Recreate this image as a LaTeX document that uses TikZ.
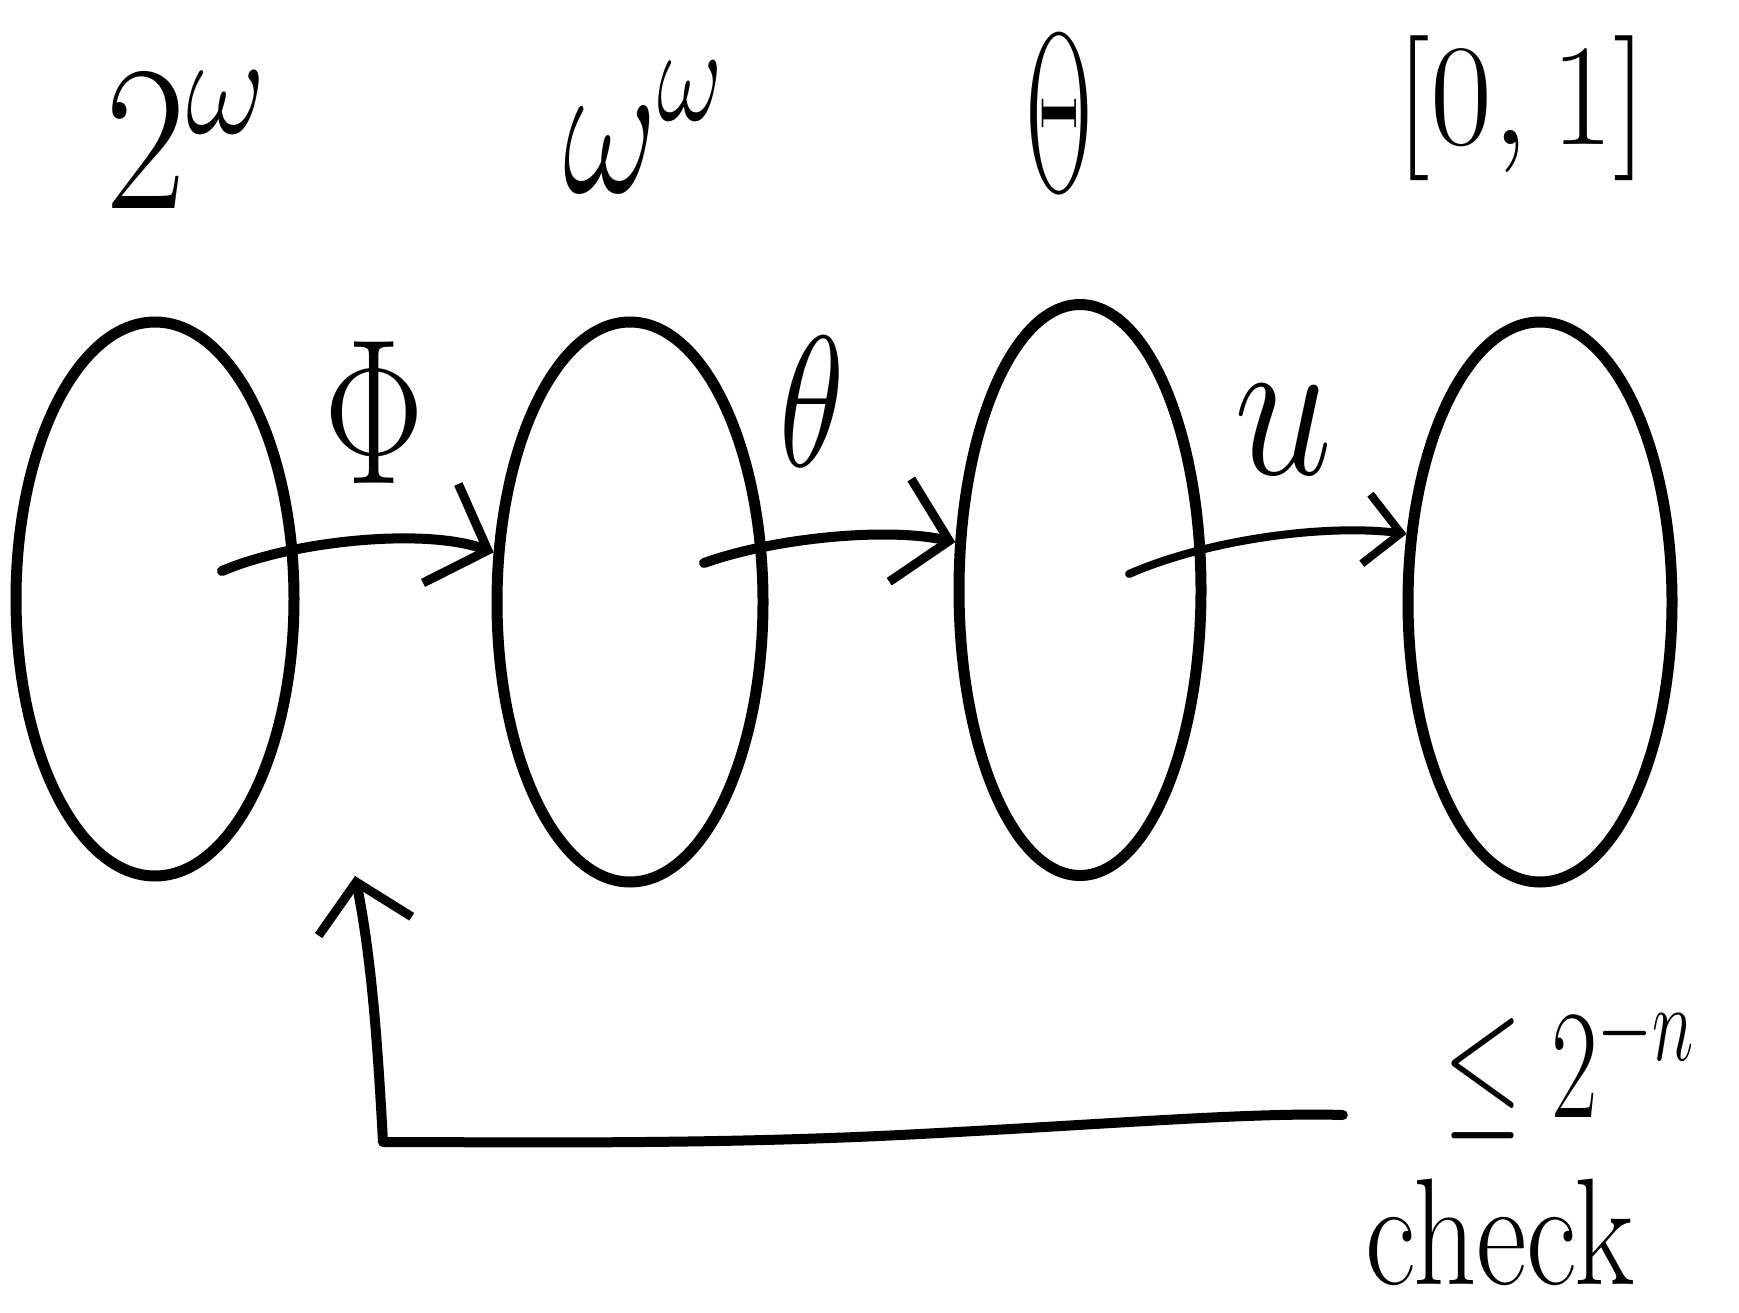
\documentclass[tikz,border=0pt]{standalone}
\usepackage{amsmath,amssymb}
\usetikzlibrary{shapes.geometric,arrows.meta,calc}
\begin{document}
\begin{tikzpicture}[x=1pt,y=-1pt,
  blob/.style={draw, ellipse, line width=11pt, inner sep=0pt},
  lab/.style={inner sep=0pt, font=\fontsize{20}{24}\selectfont},
  arr/.style={line width=10pt, line cap=round, line join=round, -{Straight Barb[length=50pt,width=105pt,line width=9pt]}},
  arrs/.style={line width=8pt, line cap=round, line join=round, -{Straight Barb[length=35pt,width=70pt,line width=8pt]}},
  arrb/.style={line width=10pt, line cap=round, line join=round, -{Straight Barb[length=45pt,width=95pt,line width=9pt]}}]
\useasboundingbox (0,0) rectangle (1739,1313);
% sets
\node[blob, minimum width=278pt, minimum height=554pt] (e1) at (155,599) {};
\node[blob, minimum width=266pt, minimum height=560pt] (e2) at (630,602) {};
\node[blob, minimum width=242pt, minimum height=571pt] (e3) at (1080,590) {};
\node[blob, minimum width=264pt, minimum height=560pt] (e4) at (1540,602) {};
% top labels
\node[lab, xscale=8.5, yscale=10] (t1) at (188,140) {$2^{\omega}$};
\node[lab, xscale=7, yscale=9.5] (t2) at (645,127) {$\omega^{\omega}$};
\node[lab, xscale=4.4, yscale=11] (t3) at (1059,114) {$\Theta$};
\node[lab, xscale=6.5, yscale=7] (t4) at (1522,108) {$[0,1]$};
% arrow labels
\node[lab, xscale=7.2, yscale=10] (l1) at (374,413) {$\Phi$};
\node[lab, xscale=6.5, yscale=9] (l2) at (812,402) {$\theta$};
\node[lab, xscale=8.5, yscale=10] (l3) at (1284,430) {$u$};
% bottom labels
\node[lab, xscale=4.9, yscale=7.5] (le) at (1570,1068) {$\leq 2^{-n}$};
\node[lab, xscale=6.2, yscale=7.6] (ck) at (1500,1232) {check};
% arrows
\draw[arr] ($(e1.center)+(67,-28)$) .. controls +(70,-30) and +(-70,-25) .. (e2.160);
\draw[arr] ($(e2.center)+(74,-39)$) .. controls +(70,-25) and +(-70,-15) .. (e3.159);
\draw[arrs] ($(e3.center)+(49,-16)$) .. controls +(80,-35) and +(-80,-10) .. (e4.153);
\coordinate (back) at (355,876);
\draw[arrb] ($(le.west)+(-100,47)$) .. controls (1250,1112) and (1100,1125) .. (900,1135)
  .. controls (700,1145) and (500,1142) .. (383,1142)
  .. controls (378,1050) and (372,960) .. (back);
\end{tikzpicture}
\end{document}
